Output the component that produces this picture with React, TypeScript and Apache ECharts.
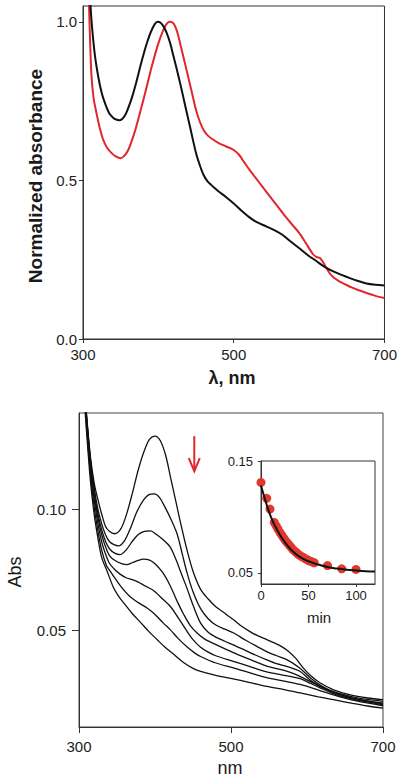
import React, { useEffect, useRef } from "react";
import * as echarts from "echarts";

// ---------- Top panel: normalized absorbance ----------
const blackNorm: [number, number][] = [[305,1.35],[310,1.05],[315,0.91],[320,0.83],[325,0.774],[330,0.738],[335,0.711],[340,0.698],[344,0.692],[348,0.690],[352,0.694],[356,0.706],[360,0.728],[365,0.762],[370,0.803],[375,0.850],[380,0.895],[385,0.935],[390,0.968],[395,0.992],[399,1.0],[403,0.997],[407,0.985],[411,0.965],[416,0.930],[420,0.892],[425,0.845],[430,0.795],[435,0.742],[440,0.690],[445,0.637],[450,0.586],[455,0.548],[460,0.517],[465,0.498],[470,0.486],[475,0.475],[480,0.465],[490,0.447],[500,0.427],[510,0.405],[520,0.385],[530,0.369],[543,0.355],[555,0.342],[565,0.328],[575,0.308],[587,0.286],[598,0.265],[610,0.245],[620,0.228],[632,0.213],[643,0.202],[654,0.192],[665,0.183],[676,0.175],[688,0.171],[700,0.169]];
const redNorm: [number, number][] = [[303,1.4],[308,1.05],[311,0.84],[314,0.76],[318,0.711],[322,0.668],[327,0.627],[332,0.603],[338,0.586],[344,0.575],[350,0.570],[355,0.578],[360,0.596],[365,0.627],[370,0.664],[375,0.708],[380,0.753],[385,0.800],[390,0.848],[395,0.892],[400,0.932],[405,0.965],[410,0.990],[415,1.0],[420,0.995],[425,0.968],[430,0.921],[435,0.872],[440,0.822],[445,0.772],[450,0.722],[455,0.685],[460,0.659],[465,0.643],[470,0.633],[480,0.618],[490,0.607],[500,0.596],[507,0.581],[514,0.557],[521,0.533],[532,0.499],[543,0.465],[554,0.431],[565,0.397],[576,0.365],[587,0.334],[596,0.301],[605,0.268],[610,0.258],[614,0.256],[617,0.248],[621,0.232],[627,0.208],[633,0.193],[640,0.182],[649,0.171],[658,0.161],[667,0.153],[676,0.145],[688,0.136],[700,0.129]];

// ---------- Bottom panel: Abs spectra over time ----------
const spec1: [number, number][] = [[302,0.175],[305,0.160],[310,0.139],[315,0.122],[320,0.111],[325,0.104],[330,0.098],[335,0.093],[340,0.0910],[347,0.0900],[355,0.0920],[362,0.0975],[370,0.1065],[378,0.1165],[386,0.1245],[393,0.1292],[400,0.1304],[407,0.1285],[414,0.1225],[420,0.1140],[427,0.1040],[434,0.0940],[442,0.0834],[450,0.0745],[460,0.0670],[470,0.0630],[480,0.0598],[490,0.0575],[503,0.0545],[515,0.0515],[525,0.0495],[535,0.0478],[547,0.0462],[557,0.0448],[565,0.0436],[575,0.0415],[585,0.0385],[595,0.0345],[605,0.0312],[617,0.0283],[635,0.0254],[657,0.0233],[680,0.0220],[700,0.0213]];
const spec2: [number, number][] = [[302,0.175],[305,0.160],[310,0.1385],[315,0.121],[320,0.109],[325,0.100],[330,0.094],[335,0.0895],[340,0.0868],[346,0.0855],[352,0.0850],[360,0.0872],[368,0.0925],[376,0.0990],[385,0.1040],[392,0.1062],[399,0.1065],[406,0.1050],[414,0.1005],[421,0.0960],[429,0.0900],[436,0.0815],[442,0.0740],[450,0.0660],[460,0.0590],[470,0.0548],[480,0.0522],[492,0.0505],[503,0.0490],[520,0.0458],[535,0.0432],[547,0.0412],[560,0.0395],[574,0.0378],[590,0.0345],[605,0.0302],[620,0.0268],[635,0.0246],[660,0.0225],[680,0.0214],[700,0.0206]];
const spec3: [number, number][] = [[302,0.175],[305,0.160],[310,0.138],[315,0.120],[320,0.107],[325,0.098],[330,0.0915],[335,0.0868],[340,0.0838],[347,0.0820],[354,0.0814],[362,0.0833],[370,0.0868],[378,0.0897],[386,0.0910],[394,0.0912],[402,0.0897],[410,0.0877],[420,0.0845],[428,0.0790],[435,0.0732],[442,0.0675],[450,0.0605],[460,0.0530],[470,0.0492],[480,0.0472],[492,0.0455],[503,0.0440],[525,0.0408],[547,0.0378],[560,0.0362],[574,0.0350],[591,0.0330],[605,0.0292],[620,0.0264],[635,0.0242],[660,0.0220],[680,0.0208],[700,0.0199]];
const spec4: [number, number][] = [[302,0.175],[305,0.160],[310,0.137],[315,0.119],[320,0.106],[325,0.0965],[330,0.0895],[335,0.0845],[340,0.0810],[348,0.0788],[356,0.0776],[363,0.0772],[370,0.0780],[378,0.0790],[385,0.0795],[392,0.0792],[400,0.0776],[410,0.0740],[420,0.0685],[430,0.0615],[438,0.0565],[446,0.0522],[455,0.0490],[465,0.0465],[481,0.0440],[503,0.0408],[525,0.0380],[547,0.0352],[570,0.0334],[585,0.0318],[600,0.0295],[617,0.0268],[640,0.0237],[665,0.0215],[700,0.0196]];
const spec5: [number, number][] = [[302,0.172],[305,0.158],[310,0.136],[315,0.117],[320,0.104],[325,0.094],[330,0.0865],[335,0.0815],[340,0.0778],[347,0.0752],[354,0.0733],[362,0.0718],[370,0.0710],[378,0.0700],[386,0.0686],[398,0.0665],[410,0.0630],[420,0.0600],[430,0.0555],[442,0.0497],[450,0.0462],[460,0.0430],[470,0.0410],[480,0.0395],[503,0.0372],[525,0.0350],[547,0.0328],[570,0.0314],[591,0.0300],[605,0.0280],[617,0.0262],[640,0.0232],[665,0.0212],[700,0.0192]];
const spec6: [number, number][] = [[302,0.170],[305,0.156],[310,0.134],[315,0.115],[320,0.101],[325,0.091],[330,0.083],[336,0.0770],[341,0.0745],[346,0.0722],[355,0.0682],[367,0.0640],[378,0.0615],[390,0.0592],[400,0.0566],[411,0.0530],[420,0.0503],[430,0.0468],[442,0.0432],[452,0.0407],[460,0.0392],[480,0.0365],[503,0.0345],[525,0.0324],[547,0.0304],[570,0.0290],[591,0.0276],[615,0.0253],[640,0.0228],[665,0.0208],[700,0.0188]];
const spec7: [number, number][] = [[302,0.168],[305,0.154],[310,0.132],[315,0.112],[320,0.098],[325,0.088],[330,0.080],[337,0.0745],[345,0.0680],[352,0.0642],[359,0.0613],[370,0.0570],[381,0.0533],[392,0.0495],[403,0.0461],[414,0.0428],[425,0.0400],[438,0.0366],[450,0.0343],[460,0.0330],[480,0.0314],[503,0.0299],[525,0.0284],[547,0.0268],[570,0.0255],[591,0.0241],[615,0.0225],[635,0.0213],[660,0.0198],[680,0.0187],[700,0.0178]];
const spectra = [spec1, spec2, spec3, spec4, spec5, spec6, spec7];

// ---------- Inset: kinetics ----------
const kinPoints: [number, number][] = [[0,0.1308],[6,0.1166],[9.5,0.107],[14,0.095],[16,0.092],[18,0.089],[20,0.086],[22,0.0835],[24,0.081],[26,0.0785],[28,0.0765],[30,0.0745],[32,0.0725],[34,0.0705],[36,0.069],[38,0.0675],[40,0.066],[42,0.065],[44,0.064],[46,0.063],[48,0.062],[50,0.061],[52,0.0603],[54,0.0597],[56,0.059],[70,0.0565],[85,0.0536],[100,0.053]];
const kinFit: [number, number][] = [[0,0.128],[5,0.1135],[10,0.101],[15,0.0915],[20,0.0838],[25,0.0775],[30,0.0722],[35,0.068],[40,0.0647],[45,0.0622],[50,0.0603],[55,0.0588],[60,0.0574],[70,0.0552],[80,0.0538],[90,0.0528],[100,0.0521],[110,0.0515],[120,0.0511]];

// tick labels
const wlTicks = [300, 500, 700];
const normTicks = [0, 0.5, 1.0];
const absTicks = [0.05, 0.1];
const minTicks = [0, 50, 100];
const kinTicks = [0.05, 0.15];
// arrow annotation (data coords in bottom panel)
const arrowX = 451.7;
const arrowY: [number, number] = [0.1304, 0.1159];

const FONT = "'Liberation Sans', Arial, Helvetica, sans-serif";
const RED = "#e2262b";

export default function App() {
  const ref = useRef<HTMLDivElement>(null);
  useEffect(() => {
    if (!ref.current) return;
    const chart = echarts.init(ref.current, undefined, { renderer: "svg" });
    const axisLine = { show: true, lineStyle: { color: "#333", width: 1 } };
    const label = (size: number, margin: number, digits: number) => ({
      fontSize: size,
      margin,
      color: "#222",
      fontFamily: FONT,
      formatter: (v: number) => v.toFixed(digits),
    });
    const option: any = {
      animation: false,
      backgroundColor: "#fff",
      textStyle: { fontFamily: FONT },
      grid: [
        { left: 83, top: 6, width: 302, height: 333, show: true, borderColor: "#333", borderWidth: 1, containLabel: false },
        { left: 79, top: 413, width: 304, height: 314, show: true, borderColor: "#444", borderWidth: 1, containLabel: false },
        { left: 261, top: 461, width: 114, height: 123, show: true, borderColor: "#333", borderWidth: 1, backgroundColor: "#fff", containLabel: false },
      ],
      xAxis: [
        { gridIndex: 0, type: "value", min: 300, max: 700, axisLine, splitLine: { show: false },
          axisTick: { show: true, length: 4, customValues: wlTicks, lineStyle: { color: "#333" } },
          axisLabel: { ...label(15, 8, 0), customValues: wlTicks } },
        { gridIndex: 1, type: "value", min: 300, max: 700, axisLine, splitLine: { show: false },
          axisTick: { show: true, length: 6, customValues: wlTicks, lineStyle: { color: "#333" } },
          axisLabel: { ...label(15, 12, 0), customValues: wlTicks } },
        { gridIndex: 2, type: "value", min: 0, max: 120, axisLine, splitLine: { show: false },
          axisTick: { show: true, length: 3, customValues: minTicks, lineStyle: { color: "#333" } },
          axisLabel: { ...label(13, 5, 0), customValues: minTicks } },
      ],
      yAxis: [
        { gridIndex: 0, type: "value", min: 0, max: 1.05, axisLine, splitLine: { show: false },
          axisTick: { show: true, length: 4, customValues: normTicks, lineStyle: { color: "#333" } },
          axisLabel: { ...label(15, 6, 1), customValues: normTicks } },
        { gridIndex: 1, type: "value", min: 0.01, max: 0.14, axisLine, splitLine: { show: false },
          axisTick: { show: true, length: 7, customValues: absTicks, lineStyle: { color: "#333" } },
          axisLabel: { ...label(15, 13, 2), customValues: absTicks } },
        { gridIndex: 2, type: "value", min: 0.04, max: 0.15, axisLine, splitLine: { show: false },
          axisTick: { show: true, length: 3, customValues: kinTicks, lineStyle: { color: "#333" } },
          axisLabel: { ...label(13, 8, 2), customValues: kinTicks } },
      ],
      series: [
        { type: "line", xAxisIndex: 0, yAxisIndex: 0, data: blackNorm, showSymbol: false, clip: true,
          smooth: 0.3, lineStyle: { color: "#111", width: 2 }, z: 3 },
        { type: "line", xAxisIndex: 0, yAxisIndex: 0, data: redNorm, showSymbol: false, clip: true,
          smooth: 0.3, lineStyle: { color: RED, width: 2 }, z: 2 },
        ...spectra.map((d) => ({
          type: "line", xAxisIndex: 1, yAxisIndex: 1, data: d, showSymbol: false, clip: true,
          smooth: 0.3, lineStyle: { color: "#111", width: 1.3 }, z: 2,
        })),
        { type: "scatter", xAxisIndex: 2, yAxisIndex: 2, data: kinPoints, symbolSize: 9,
          itemStyle: { color: "#e0392c", opacity: 1 }, z: 4 },
        { type: "line", xAxisIndex: 2, yAxisIndex: 2, data: kinFit, showSymbol: false, smooth: true, clip: true,
          lineStyle: { color: "#111", width: 2 }, z: 5 },
      ],
    };
    chart.setOption(option);

    const p0 = chart.convertToPixel({ xAxisIndex: 1, yAxisIndex: 1 } as any, [arrowX, arrowY[0]]) as number[];
    const p1 = chart.convertToPixel({ xAxisIndex: 1, yAxisIndex: 1 } as any, [arrowX, arrowY[1]]) as number[];
    const title = (text: string, x: number, y: number, size: number, bold: boolean, rot = 0) => ({
      type: "text", x, y, rotation: rot, z: 10,
      style: { text, fontSize: size, fontWeight: bold ? "bold" : "normal", fontFamily: FONT, fill: "#1a1a1a",
        align: "center", verticalAlign: "middle" },
    });
    chart.setOption({
      graphic: [
        title("Normalized absorbance", 35, 176, 19, true, Math.PI / 2),
        title("λ, nm", 232, 378, 18, true),
        title("Abs", 15, 572, 18, false, Math.PI / 2),
        title("nm", 230, 768, 18, false),
        title("min", 319, 617, 15, false),
        { type: "line", z: 10, shape: { x1: p0[0], y1: p0[1], x2: p1[0], y2: p1[1] },
          style: { stroke: RED, lineWidth: 2 } },
        { type: "polyline", z: 10, shape: { points: [[p1[0] - 5.5, p1[1] - 13], [p1[0], p1[1]], [p1[0] + 5.5, p1[1] - 13]] },
          style: { stroke: RED, lineWidth: 2, fill: "none" } },
      ],
    });
    return () => chart.dispose();
  }, []);
  return (
    <div
      ref={ref}
      style={{ position: "absolute", left: 0, top: 0, width: 400, height: 780, background: "#fff" }}
    />
  );
}
